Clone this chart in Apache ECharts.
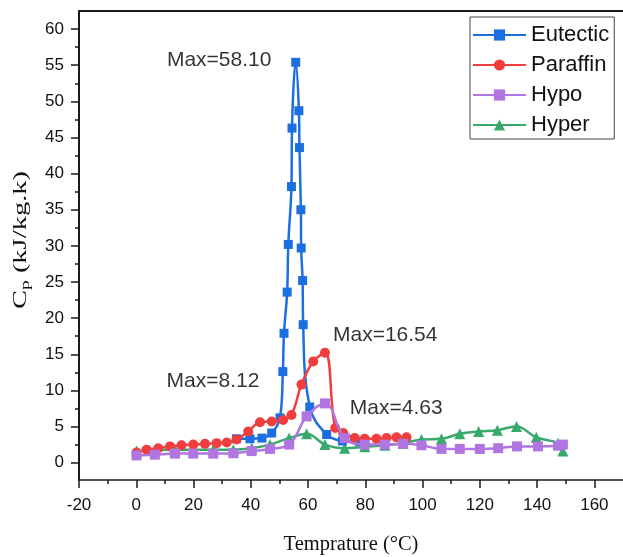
<!DOCTYPE html>
<html>
<head>
<meta charset="utf-8">
<script src="https://cdn.jsdelivr.net/npm/echarts@6/dist/echarts.min.js"></script>
<style>
  html, body { margin: 0; padding: 0; background: #fff; }
  #main { width: 623px; height: 557px; }
</style>
</head>
<body>
<div id="main"></div>
<script>
// 数据：温度 (°C) 与 比热 Cp (kJ/kg.k)
var tEutectic = [35, 39.7, 43.9, 47.3, 50.2, 51.2, 51.6, 52.7, 53.1, 54.2, 54.4, 55.7, 56.8, 57.0, 57.5, 57.6, 58.1, 58.3, 60.6, 66.5, 72, 78];
var cpEutectic = [3.3, 3.3, 3.4, 4.1, 6.2, 12.6, 17.9, 23.6, 30.2, 38.2, 46.3, 55.4, 48.7, 43.6, 35.0, 29.7, 25.2, 19.1, 7.7, 3.9, 3.0, 2.9];

var tParaffin = [0.1, 3.6, 7.7, 11.8, 15.8, 19.9, 24, 28.1, 31.6, 35, 39.1, 43.2, 47.3, 51.3, 54.2, 57.7, 61.8, 65.9, 69.5, 72.3, 76.3, 79.8, 83.9, 87.4, 90.9, 94.4];
var cpParaffin = [1.4, 1.8, 2.0, 2.25, 2.4, 2.5, 2.6, 2.7, 2.8, 3.2, 4.3, 5.6, 5.7, 5.9, 6.6, 10.8, 14.0, 15.2, 4.8, 4.1, 3.4, 3.3, 3.3, 3.4, 3.5, 3.5];

var tHypo = [0.1, 6.5, 13.5, 19.9, 26.9, 33.9, 40.3, 46.7, 53.4, 59.5, 65.9, 72.8, 79.8, 86.8, 93.2, 99.6, 106.6, 113, 120, 126.4, 133, 140.3, 147.3, 149];
var cpHypo = [1.0, 1.1, 1.25, 1.25, 1.25, 1.3, 1.6, 1.9, 2.5, 6.4, 8.2, 3.4, 2.5, 2.5, 2.6, 2.4, 1.9, 1.9, 1.9, 2.0, 2.25, 2.25, 2.35, 2.5];

var tHyper = [0.1, 6.5, 13.5, 19.9, 26.9, 33.9, 40.3, 46.7, 53.4, 59.5, 65.9, 72.8, 79.8, 86.8, 93.2, 99.6, 106.6, 113, 119.6, 126.1, 132.8, 139.7, 147.3, 149];
var cpHyper = [1.6, 1.7, 1.8, 1.8, 1.8, 1.8, 2.0, 2.5, 3.4, 4.0, 2.5, 2.0, 2.2, 2.4, 2.7, 3.2, 3.3, 4.0, 4.3, 4.5, 5.0, 3.5, 2.7, 1.6];

// 刻度
var xMajorTicks = [-20, 0, 20, 40, 60, 80, 100, 120, 140, 160];
var xMinorTicks = [-10, 10, 30, 50, 70, 90, 110, 130, 150];
var yMajorTicks = [0, 5, 10, 15, 20, 25, 30, 35, 40, 45, 50, 55, 60];
var yMinorTicks = [2.5, 7.5, 12.5, 17.5, 22.5, 27.5, 32.5, 37.5, 42.5, 47.5, 52.5, 57.5];

// 标注
var maxLabels = ["Max=58.10", "Max=16.54", "Max=8.12", "Max=4.63"];
var maxLabelPos = [[10.7, 55.7], [68.7, 17.7], [10.6, 11.3], [74.6, 7.5]];

function pairs(xs, ys) {
  return xs.map(function (x, i) { return [x, ys[i]]; });
}

var myChart = echarts.init(document.getElementById("main"));
var axisColor = "#1a1a1a";
var sans = "Liberation Sans, Arial, sans-serif";
var serif = "Liberation Serif, Times New Roman, serif";
var labelFont = { color: "#111", fontSize: 17, fontFamily: sans };

var option = {
  animation: false,
  grid: { left: 79, right: 0, top: 11, bottom: 77, outerBoundsMode: "none", containLabel: false },
  // y轴标题（原图被横向拉伸）
  graphic: [
    {
      type: "text",
      x: 21,
      y: 240,
      rotation: Math.PI / 2,
      scaleX: 1.5,
      style: {
        text: "{c|C}{p|p}{c| (kJ/kg.k)}",
        align: "center",
        verticalAlign: "middle",
        fontWeight: "normal",
        rich: {
          c: { fill: "#111", fontSize: 19, fontWeight: "normal", fontFamily: serif },
          p: { fill: "#111", fontSize: 13, fontWeight: "normal", fontFamily: serif, padding: [10, 0, 0, 0] }
        }
      }
    }
  ],
  legend: {
    data: ["Eutectic", "Paraffin", "Hypo", "Hyper"],
    orient: "vertical",
    left: 470,
    top: 17,
    padding: [7, 5, 3, 2],
    itemWidth: 53,
    itemHeight: 14,
    itemGap: 8,
    itemTextGap: 6,
    borderColor: "#444",
    borderWidth: 1,
    textStyle: { color: "#111", fontSize: 22, fontFamily: sans }
  },
  xAxis: [
    {
      type: "value",
      min: -20,
      max: 170,
      position: "bottom",
      name: "Temprature (°C)",
      nameLocation: "middle",
      nameGap: 54,
      nameTextStyle: { color: "#111", fontSize: 20.5, fontFamily: serif },
      splitLine: { show: false },
      axisLine: { onZero: false, lineStyle: { color: axisColor, width: 1.5 } },
      axisTick: { inside: false, customValues: xMajorTicks, length: 8, lineStyle: { color: axisColor, width: 1.5 } },
      axisLabel: Object.assign({ customValues: xMajorTicks, margin: 17 }, labelFont)
    },
    {
      type: "value",
      min: -20,
      max: 170,
      position: "bottom",
      splitLine: { show: false },
      axisLine: { show: false, onZero: false },
      axisTick: { inside: false, customValues: xMinorTicks, length: 4, lineStyle: { color: axisColor, width: 1.5 } },
      axisLabel: { show: false }
    },
    {
      type: "value",
      min: -20,
      max: 170,
      position: "top",
      splitLine: { show: false },
      axisLine: { onZero: false, lineStyle: { color: axisColor, width: 2 } },
      axisTick: { show: false },
      axisLabel: { show: false }
    }
  ],
  yAxis: [
    {
      type: "value",
      min: -2.4,
      max: 62.5,
      position: "left",
      splitLine: { show: false },
      axisLine: { show: true, onZero: false, lineStyle: { color: axisColor, width: 2 } },
      axisTick: { show: true, inside: false, customValues: yMajorTicks, length: 8, lineStyle: { color: axisColor, width: 1.5 } },
      axisLabel: Object.assign({ customValues: yMajorTicks, margin: 15 }, labelFont)
    },
    {
      type: "value",
      min: -2.4,
      max: 62.5,
      position: "left",
      splitLine: { show: false },
      axisLine: { show: false, onZero: false },
      axisTick: { show: true, inside: false, customValues: yMinorTicks, length: 4, lineStyle: { color: axisColor, width: 1.5 } },
      axisLabel: { show: false }
    }
  ],
  series: [
    {
      name: "Hyper",
      type: "line",
      smooth: 0.4,
      z: 2,
      data: pairs(tHyper, cpHyper),
      symbol: "triangle",
      symbolSize: 11,
      itemStyle: { color: "#37a96a" },
      lineStyle: { color: "#37a96a", width: 2.5 }
    },
    {
      name: "Eutectic",
      type: "line",
      smooth: 0.4,
      z: 3,
      data: pairs(tEutectic, cpEutectic),
      symbol: "rect",
      symbolSize: 9,
      itemStyle: { color: "#1b6fe0" },
      lineStyle: { color: "#1b6fe0", width: 2.5 }
    },
    {
      name: "Paraffin",
      type: "line",
      smooth: 0.4,
      z: 4,
      data: pairs(tParaffin, cpParaffin),
      symbol: "circle",
      symbolSize: 10,
      itemStyle: { color: "#f03d3d" },
      lineStyle: { color: "#f03d3d", width: 2.5 }
    },
    {
      name: "Hypo",
      type: "line",
      smooth: 0.4,
      z: 5,
      data: pairs(tHypo, cpHypo),
      symbol: "rect",
      symbolSize: 10,
      itemStyle: { color: "#b075e0" },
      lineStyle: { color: "#b075e0", width: 2.5 }
    },
    {
      name: "labels",
      type: "scatter",
      z: 10,
      symbolSize: 0,
      silent: true,
      data: maxLabels.map(function (s, i) { return { name: s, value: maxLabelPos[i] }; }),
      label: {
        show: true,
        position: [0, 0],
        align: "left",
        verticalAlign: "middle",
        formatter: "{b}",
        color: "#000",
        fontSize: 21,
        fontFamily: sans
      }
    }
  ]
};
myChart.setOption(option);
</script>
</body>
</html>
